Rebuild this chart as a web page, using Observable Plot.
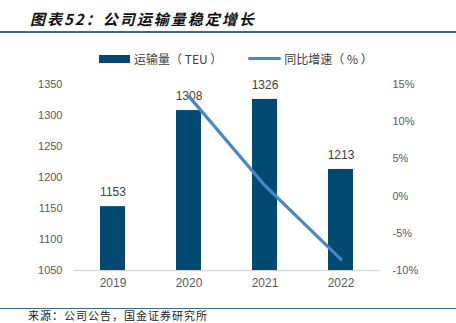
<!DOCTYPE html>
<html><head><meta charset="utf-8">
<script src="https://cdn.jsdelivr.net/npm/d3@7"></script>
<script src="https://cdn.jsdelivr.net/npm/@observablehq/plot@0.6"></script>
<style>
html,body{margin:0;padding:0;background:#fff;width:456px;height:323px;overflow:hidden;font-family:"Noto Sans CJK SC","Liberation Sans",sans-serif;}
#wrap{position:relative;width:456px;height:323px;}
#title{position:absolute;left:30px;top:8px;font-size:15px;font-weight:bold;font-style:italic;color:#111;white-space:nowrap;letter-spacing:2px;}
#rule1{position:absolute;left:0;top:31px;width:456px;height:2px;background:#3e6a88;}
#legend{position:absolute;top:50px;left:99px;font-size:12px;color:#404040;display:flex;align-items:center;white-space:nowrap;}
#chart{position:absolute;left:0;top:70px;}
#rule2{position:absolute;left:0;top:308px;width:456px;height:1px;background:#3e6a88;}
#source{position:absolute;left:28px;top:309px;font-size:11px;line-height:13px;color:#222;white-space:nowrap;letter-spacing:1px;}
</style></head>
<body><div id="wrap">
<div id="title">图表52：公司运输量稳定增长</div>
<div id="rule1"></div>
<div id="legend">
  <span style="display:inline-block;width:31px;height:8px;background:#034a72;margin-right:4px"></span><span>运输量（ TEU ）</span>
  <span style="display:inline-block;width:33px;height:3px;background:#4a86c6;margin-left:26px;margin-right:3px;border-radius:2px"></span><span>同比增速（ % ）</span>
</div>
<div id="chart"></div>
<div id="rule2"></div>
<div id="source">来源：公司公告，国金证券研究所</div>
</div>
<script>
const years = ["2019","2020","2021","2022"];
const volume = [1153, 1308, 1326, 1213];
const growthYears = ["2020","2021","2022"];
const growth = [13.4, 1.4, -8.5];
const leftTicks = [1050,1100,1150,1200,1250,1300,1350];
const rightTicks = [-10,-5,0,5,10,15];

const yMin = 1050, yMax = 1350, gMin = -10, gMax = 15;
const g2y = g => yMin + (g - gMin) / (gMax - gMin) * (yMax - yMin);
const y2g = v => gMin + (v - yMin) / (yMax - yMin) * (gMax - gMin);

const bars = years.map((y,i)=>({year:y, v:volume[i]}));
const line = growthYears.map((y,i)=>({year:y, v:g2y(growth[i])}));

const chart = Plot.plot({
  width: 456, height: 230,
  marginLeft: 73, marginRight: 76, marginTop: 14, marginBottom: 30,
  style:{fontFamily:"Liberation Sans, Arial, sans-serif", fontSize:"11px", color:"#595959", background:"#fff"},
  x:{domain:years, paddingInner:0.67, paddingOuter:0.335, label:null},
  y:{domain:[yMin,yMax], label:null},
  marks:[
    Plot.ruleY([yMin],{stroke:"#d9d9d9", strokeWidth:1.5}),
    Plot.barY(bars,{x:"year", y1:yMin, y2:"v", fill:"#034a72"}),
    Plot.text(bars,{x:"year", y:"v", text:d=>String(d.v), dy:-14, fill:"#404040", fontSize:12}),
    Plot.line(line,{x:"year", y:"v", stroke:"#4a86c6", strokeWidth:3.2}),
    Plot.axisY({ticks:leftTicks, tickSize:0, tickPadding:11, anchor:"left", tickFormat:d=>String(d), fontSize:11, fill:"#595959"}),
    Plot.axisY({ticks:rightTicks.map(g2y), tickSize:0, tickPadding:12, anchor:"right", tickFormat:v=>Math.round(y2g(v))+"%", fontSize:11, fill:"#595959"}),
    Plot.axisX({tickSize:0, tickPadding:8, fontSize:12, fill:"#595959"})
  ]
});
document.getElementById("chart").appendChild(chart);
</script>
</body></html>
